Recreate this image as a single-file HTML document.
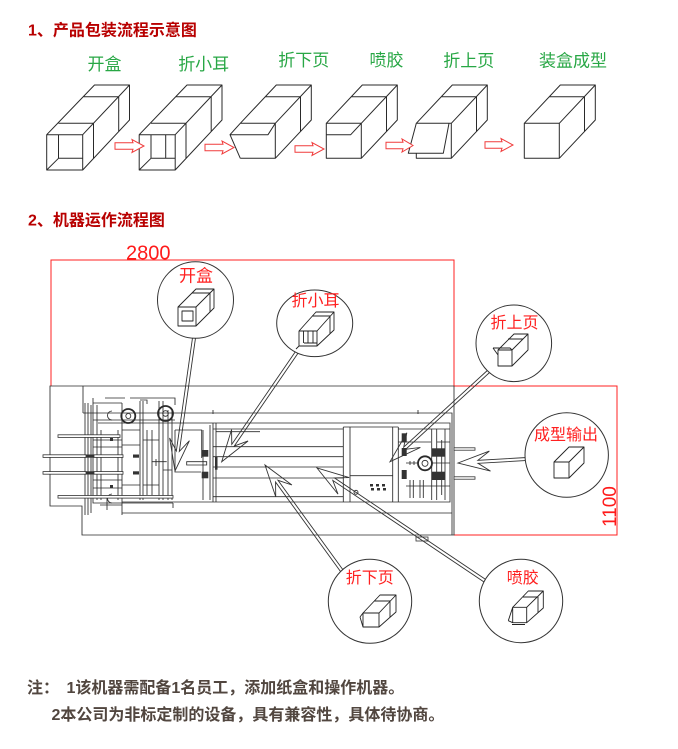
<!DOCTYPE html>
<html><head><meta charset="utf-8"><style>
html,body{margin:0;padding:0;background:#fff;width:678px;height:749px;overflow:hidden}
svg{display:block}
text{font-family:"Liberation Sans","Noto Sans CJK SC",sans-serif}
</style></head><body>
<svg width="678" height="749" viewBox="0 0 678 749" xmlns="http://www.w3.org/2000/svg">
<rect width="678" height="749" fill="#fff"/>

<!-- Titles -->
<text x="28" y="35.5" font-size="16" font-weight="bold" fill="#b80000">1、产品包装流程示意图</text>
<text x="28" y="225.5" font-size="16" font-weight="bold" fill="#b80000">2、机器运作流程图</text>

<!-- Green step labels -->
<g font-size="17" fill="#28a745" text-anchor="middle">
<text x="104.5" y="70">开盒</text>
<text x="203.7" y="70">折小耳</text>
<text x="303.8" y="66.2">折下页</text>
<text x="386.5" y="66.2">喷胶</text>
<text x="468.8" y="66.5">折上页</text>
<text x="573" y="66.5">装盒成型</text>
</g>

<!-- Top row boxes -->
<g stroke="#2a2a2a" stroke-width="1" fill="none" stroke-linejoin="round">
<path d="M46.7,134.7 L94.5,85 H129.5 L82.7,134.7 M129.5,85 V120 L82.7,170 M58.5,123.3 H93.5 V158.5 M83.7,96.7 H118.7 V131.5 M46.7,134.7 H82.7 V170 H46.7 Z M58.5,134.7 V158.3 H82.7 M46.7,170 L58.5,158.3"/>
<path d="M139.2,134.7 L187,85 H222 L175.2,134.7 M222,85 V120 L175.2,170 M151,123.3 H186 V158.5 M176.2,96.7 H211.2 V131.5 M139.2,134.7 H175.2 V170 H139.2 Z M151,134.7 V158.3 M165.7,134.7 V158.3 M151,158.3 H175.2 M139.2,170 L151,158.3"/>
<path d="M240.3,123.3 H275.3 V158.3 H240.3 M275.3,123.3 L268,134.7 H230 L240.3,158.3 M230,134.7 L240.3,123.3 M240.3,123.3 L276.3,85 H311.3 L275.3,123.3 M311.3,85 V120 L275.3,158.3 M265.5,96.7 H300.5 V131.5"/>
<path d="M326.3,123.3 H361.3 V158.3 H326.3 Z M326.3,134.7 H350.7 L361.3,123.3 M326.3,123.3 L362.3,85 H397.3 L361.3,123.3 M397.3,85 V120 L361.3,158.3 M351.5,96.7 H386.5 V131.5"/>
<path d="M416.3,123.3 H451.3 V158.3 H416.3 V153.3 M416.3,123.3 L449,123.3 L443.3,153.3 L408.3,153.3 Z M416.3,123.3 L452.3,85 H487.3 L451.3,123.3 M487.3,85 V120 L451.3,158.3 M441.5,96.7 H476.5 V131.5"/>
<path d="M524.3,123.3 H559.3 V158.3 H524.3 Z M524.3,123.3 L560.3,85 H595.3 L559.3,123.3 M595.3,85 V120 L559.3,158.3 M549.5,96.7 H584.5 V131.5"/>
</g>

<!-- red hollow arrows -->
<g stroke="#f03c3c" stroke-width="1" fill="#fff">
<polygon points="115,142.7 133,142.7 132,139.5 144,146 132,152.5 133,149.3 115,149.3"/>
<polygon points="205,144.2 223,144.2 222,141 234,147.5 222,154 223,150.8 205,150.8"/>
<polygon points="295,145.7 313,145.7 312,142.5 324,149 312,155.5 313,152.3 295,152.3"/>
<polygon points="386,142.2 403,142.2 402,139 413,145.5 402,152 403,148.8 386,148.8"/>
<polygon points="485,141.7 502,141.7 501,138.5 513,145 501,151.5 502,148.3 485,148.3"/>
</g>

<!-- red dimension lines -->
<g stroke="#ff2020" stroke-width="1" fill="none">
<path d="M51,386 V260 H454 V386"/>
<path d="M454,386 H617 V535 H454"/>
</g>
<text x="126" y="259.5" font-size="20" fill="#ff1a1a">2800</text>
<text transform="translate(616,527) rotate(-90)" font-size="19" fill="#ff1a1a">1100</text>

<!-- Machine -->
<g stroke="#2a2a2a" stroke-width="0.85" fill="none">
<path d="M50,386 H454 V535 H82 V506 H50 Z"/>
<path d="M83,386 V413 M83,413 H452 V535 M122,513 H452"/>
<path d="M173,423 H450 V502 H122"/>
<path d="M213,429 H343 M213,446.7 H343 M213,456.7 H343 M213,467 H343 M213,478 H343 M213,496.7 H343 M216,431.7 H260"/>
<path d="M213,423 V502 M216,423 V502 M203,430 V500 M210,425 V500"/>
<path d="M175,430 H201.7 V458 M175,430 V472 H201"/>
<path d="M343.3,427 V502 M350,427 V502 M392.7,427 V502 M398.3,427 V502 M343.3,427 H398.3 M350,475.7 H392.7"/>
<path d="M398,429 H450 M431.7,429 V500 M436.7,429 V500 M441.7,440 V495 M445,429 V500 M398,442 H431 M437,442 H450 M406,486 H450 M410,480 V498 M413.3,480 V498 M420,480 V498 M423.3,480 V498"/>
<circle cx="425" cy="463.3" r="7" stroke-width="1.8"/>
<circle cx="425" cy="463.3" r="3"/>
<path d="M406,463 H418 M432,463 H450 M410,461 V465 M414,461 V465"/>
<circle cx="356" cy="492.3" r="2"/>
<!-- left mechanism -->
<path d="M85,403 V515 M88,403 V515 M91,405 V513 M93,403 V503 H173 M93,403 H122 M122,403 V515 M140,401 V500 M143,401 V500 M159,401 V500 M163,401 V500 M168,410 V500 M172,410 V500 M93,420 H175 M98,423 H173 M122,430 H140 M100,505 H122 M107,497 V510 M140,400 H147 V404"/>
<path d="M97,405 V500 M101,430 V500 M118,430 V500 M93,440 H122 M93,447 H122 M93,480 H122 M93,488 H122 M122,445 H140 M122,485 H140 M147,430 V495 M152,430 V495 M143,440 H159 M143,485 H159 M163,470 H172 M130,398 H175 V405 M93,398 V403 M105,398 H125"/>
<circle cx="128.3" cy="416" r="7" stroke-width="1.8"/>
<circle cx="128.3" cy="416" r="2.5"/>
<circle cx="165.5" cy="413.5" r="7.5" stroke-width="1.8"/>
<circle cx="165.5" cy="413.5" r="2.8"/>
<path d="M112,411 a4.5,4.5 0 1,0 0,9 M112,494 a4.5,4.5 0 1,0 0,9 M151.7,461.7 H166.7 M156,459 V466 M186.7,461.7 H206.7 V465 H186.7 Z"/>
<path d="M418,410 V414 M213,410 V414 M173,503 V508"/>
</g>
<!-- dark blocks -->
<g fill="#333">
<rect x="201.7" y="450" width="6.6" height="6.7"/>
<rect x="201.7" y="471.7" width="6.6" height="6.6"/>
<rect x="215" y="456.7" width="2.5" height="13"/>
<rect x="401.7" y="433.3" width="5" height="9"/>
<rect x="401.7" y="448" width="5" height="8"/>
<rect x="401.7" y="470" width="5" height="9"/>
<rect x="431.7" y="448.3" width="13.3" height="8.4"/>
<rect x="431.7" y="471.7" width="13.3" height="8.3"/>
<rect x="370" y="484" width="3" height="2.5"/>
<rect x="376" y="484" width="3" height="2.5"/>
<rect x="382" y="484" width="3" height="2.5"/>
<rect x="371" y="488" width="3" height="2.5"/>
<rect x="377" y="488" width="3" height="2.5"/>
<rect x="383" y="488" width="3" height="2.5"/>
<rect x="86" y="454.5" width="8" height="3.2"/>
<rect x="86" y="471.3" width="8" height="3.2"/>
<rect x="133" y="454.5" width="6" height="3.2"/>
<rect x="133" y="471.3" width="6" height="3.2"/>
<rect x="110" y="438" width="3" height="3"/>
<rect x="110" y="485" width="3" height="3"/>
</g>
<!-- rods -->
<g stroke="#333" stroke-width="0.8" fill="#fff">
<rect x="58" y="434.8" width="62" height="2.6"/>
<rect x="43" y="454.8" width="43" height="2.6"/>
<rect x="94" y="454.8" width="29" height="2.6"/>
<rect x="43" y="471.6" width="43" height="2.6"/>
<rect x="94" y="471.6" width="29" height="2.6"/>
<rect x="58" y="495.5" width="115" height="2.6"/>
<rect x="454" y="447.8" width="21" height="2.4"/>
<rect x="454" y="476.8" width="21" height="2.4"/>
<rect x="416" y="537" width="12" height="4"/>
</g>

<!-- pointers -->
<g stroke="#333" stroke-width="0.9" fill="none" stroke-linejoin="miter">
<polygon points="192.52,337.79 176.35,451 169.62,437.92 175,471 189.42,440.74 179.31,451.42 195.48,338.21"/>
<polygon points="295.76,351.15 231.78,444.36 231.56,429.65 221.7,461.7 248.06,440.97 234.26,446.06 298.24,352.85"/>
<polygon points="487.99,369.89 403.73,447.07 406.84,432.73 390,461.7 420.36,447.47 405.75,449.29 490.01,372.11"/>
<polygon points="526.91,457.5 477.88,460.31 489.35,451.1 458,463 490.55,471.08 478.06,463.31 527.09,460.5"/>
<polygon points="343.21,570.12 277.97,480.3 291.9,485.01 265,465 275.72,496.77 275.55,482.06 340.79,571.88"/>
<polygon points="486.84,580.25 334.45,477.89 349.14,477.52 317,468 338,494.12 332.77,480.39 485.16,582.75"/>
</g>

<!-- callout circles -->
<g stroke="#333" stroke-width="1" fill="#fff">
<ellipse cx="195.5" cy="300" rx="38" ry="38.3"/>
<ellipse cx="314.7" cy="323.3" rx="38" ry="33.3"/>
<ellipse cx="513.8" cy="343.3" rx="37.8" ry="38.3"/>
<ellipse cx="566.7" cy="455" rx="41.7" ry="42.3"/>
<ellipse cx="370" cy="601.3" rx="41.7" ry="42"/>
<ellipse cx="521" cy="601" rx="41.7" ry="41.7"/>
</g>

<!-- icons -->
<g stroke="#222" stroke-width="0.9" fill="none" stroke-linejoin="round">
<path d="M178,307 H196 V326 H178 Z M178,307 L196,289 H214 L196,307 M214,289 V308 L196,326 M182,311 H193 V321 H182 Z M192,293 H210 V312"/>
<path d="M299,331 H317 V346 H299 Z M299,331 L316,312 H334 L317,331 M334,312 V330 L317,346 M303.5,331 V343 M308,331 V343 M313,331 V343 M304,343 H317 M312,316 H330 V334 M296,349 L299,346"/>
<path d="M498,350 H512 V366 H498 Z M498,350 L514,334 H528 L512,350 M528,334 V350 L512,366 M493,348 H510 L512,350 M493,348 L498,355 M508,339 H523"/>
<path d="M554,462 H569 V478 H554 Z M554,462 L569,447 H584 L569,462 M584,447 V463 L569,478"/>
<path d="M363,613 H379 V627 H363 Z M363,613 L380,595 H396 L379,613 M396,595 V612 L379,627 M374,601 H390 V617 M360,617 L363,627 M360,617 L363,613"/>
<path d="M512.7,607.3 H526.7 V622.7 H512.7 Z M512.7,607.3 L528.3,591 H543.3 L526.7,607.3 M543.3,591 V608 L526.7,622.7 M508.3,620.7 L512.7,607.3 M508.3,620.7 L512.7,622.7 M512,624.5 H525 M523,597 H538 V613"/>
</g>

<!-- circle labels -->
<g font-size="16" fill="#ff2020" text-anchor="middle">
<text x="196" y="281.5" font-size="17">开盒</text>
<text x="315.5" y="306">折小耳</text>
<text x="514.5" y="328">折上页</text>
<text x="566" y="440">成型输出</text>
<text x="369.7" y="583">折下页</text>
<text x="522.8" y="583">喷胶</text>
</g>

<!-- notes -->
<g font-size="16" font-weight="bold" fill="#51463f">
<text x="27" y="693">注：</text>
<text x="66.5" y="693">1该机器需配备1名员工，添加纸盒和操作机器。</text>
<text x="51.5" y="720">2本公司为非标定制的设备，具有兼容性，具体待协商。</text>
</g>
</svg>
</body></html>
